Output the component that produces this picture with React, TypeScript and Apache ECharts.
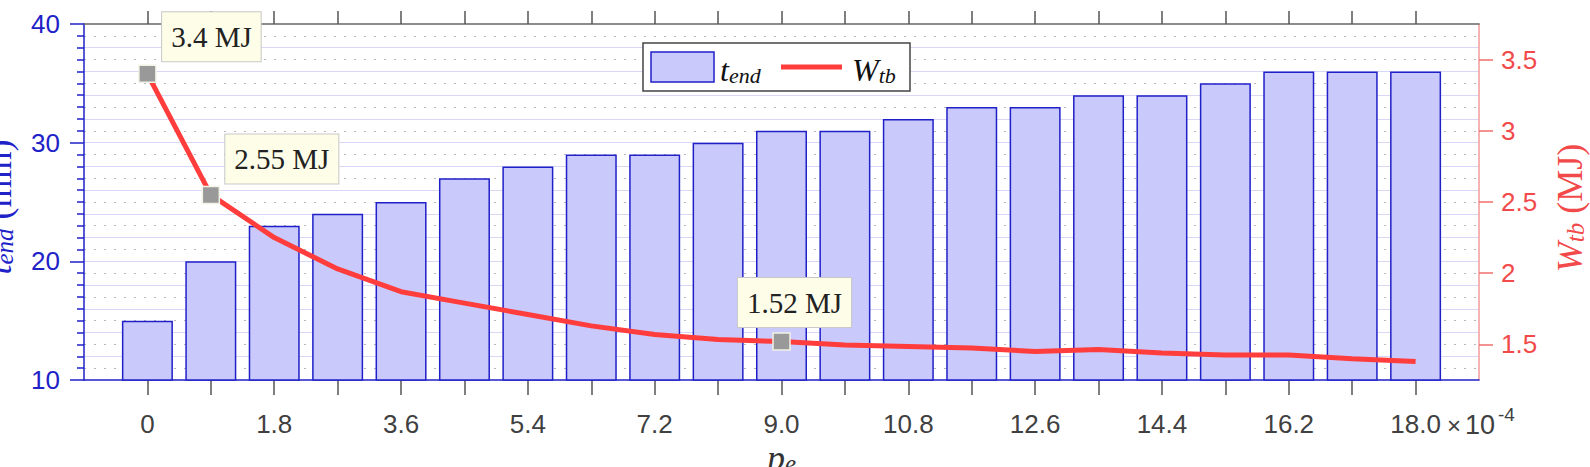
import React, { useEffect, useRef } from 'react';
import * as echarts from 'echarts';

// ---- data ----
const pe = [0, 0.9, 1.8, 2.7, 3.6, 4.5, 5.4, 6.3, 7.2, 8.1, 9.0, 9.9, 10.8, 11.7, 12.6, 13.5, 14.4, 15.3, 16.2, 17.1, 18.0];
const peLabels = [0, 1.8, 3.6, 5.4, 7.2, 9.0, 10.8, 12.6, 14.4, 16.2, 18.0];
const tEnd = [15, 20, 23, 24, 25, 27, 28, 29, 29, 30, 31, 31, 32, 33, 33, 34, 34, 35, 36, 36, 36];
const wTb = [3.4, 2.55, 2.25, 2.03, 1.87, 1.79, 1.71, 1.63, 1.57, 1.535, 1.52, 1.495, 1.485, 1.475, 1.45, 1.465, 1.44, 1.425, 1.425, 1.40, 1.38];
const rightTicks = [1.5, 2, 2.5, 3, 3.5];
const annotatedIdx = [0, 1, 10];
const annotatedText = ['3.4 MJ', '2.55 MJ', '1.52 MJ'];

export default function App() {
  const ref = useRef<HTMLDivElement>(null);
  useEffect(() => {
    const chart = echarts.init(ref.current!, null, { renderer: 'svg' });
    const blue = '#2121c8';
    const red = '#f24a4a';
    const barFill = '#c9c9fb';
    const lineRed = '#ff3d3d';
    const serif = '"Liberation Serif", "DejaVu Serif", serif';
    const sans = '"Liberation Sans", Arial, sans-serif';
    const labelOffsets: number[][] = [[64, -37], [71, -36], [13, -39]];

    const lineData = pe.map((x, i) => {
      const k = annotatedIdx.indexOf(i);
      if (k < 0) return [x, wTb[i]];
      return {
        value: [x, wTb[i]],
        symbol: 'rect',
        symbolSize: 17,
        itemStyle: { color: '#999999', borderColor: '#f2f2e6', borderWidth: 1.5 },
        label: {
          show: true,
          formatter: annotatedText[k],
          position: 'inside',
          offset: labelOffsets[k],
          backgroundColor: '#fdfde8',
          borderColor: '#c8c8c8',
          borderWidth: 1,
          padding: [10, 9],
          fontFamily: serif,
          fontSize: 29,
          color: '#222222',
        },
      };
    });

    const mathRich = (color: string, main: number, sub: number, lh: number) => ({
      i: { fontFamily: serif, fontStyle: 'italic', fontSize: main, lineHeight: lh, fill: color, verticalAlign: 'bottom' },
      s: { fontFamily: serif, fontStyle: 'italic', fontSize: sub, lineHeight: sub * 0.8, fill: color, verticalAlign: 'bottom' },
      n: { fontFamily: serif, fontSize: main, lineHeight: lh, fill: color, verticalAlign: 'bottom' },
    });

    const option = {
      animation: false,
      grid: { left: 84, right: 111, top: 24, bottom: 87, containLabel: false },
      xAxis: [
        {
          type: 'value', min: -0.9, max: 18.9, position: 'bottom',
          axisLine: { show: true, onZero: false, lineStyle: { color: blue, width: 1.5 } },
          axisTick: { show: true, customValues: pe, length: 15, lineStyle: { color: '#555555', width: 1.5 } },
          axisLabel: {
            customValues: peLabels,
            formatter: (v: number) => (v === 0 ? '0' : v.toFixed(1)),
            color: '#404040', fontSize: 26, fontFamily: sans, margin: 31,
          },
          splitLine: { show: false },
        },
        {
          type: 'value', min: -0.9, max: 18.9, position: 'top',
          axisLine: { show: true, onZero: false, lineStyle: { color: '#666666', width: 1.5 } },
          axisTick: { show: true, customValues: pe, length: 13, lineStyle: { color: '#555555', width: 1.5 } },
          axisLabel: { show: false },
          splitLine: { show: false },
        },
      ],
      yAxis: [
        {
          type: 'value', min: 10, max: 40, interval: 10, position: 'left',
          axisLine: { show: true, onZero: false, lineStyle: { color: blue, width: 1.5 } },
          axisTick: { show: true, length: 14, lineStyle: { color: blue, width: 1.5 } },
          minorTick: { show: true, splitNumber: 10, length: 7, lineStyle: { color: blue, width: 1.5 } },
          axisLabel: { color: blue, fontSize: 26, fontFamily: sans, margin: 24 },
          splitLine: { show: false },
        },
        {
          type: 'value', min: 1.25, max: 3.75, position: 'right',
          axisLine: { show: true, onZero: false, lineStyle: { color: '#f39a9a', width: 1.5 } },
          axisTick: { show: true, customValues: rightTicks, length: 14, lineStyle: { color: '#f06c6c', width: 1.5 } },
          axisLabel: { customValues: rightTicks, formatter: (v: number) => String(v), color: red, fontSize: 26, fontFamily: sans, margin: 22 },
          splitLine: { show: false },
        },
        {
          type: 'value', min: 10, max: 40, interval: 2, position: 'left',
          axisLine: { show: false }, axisTick: { show: false }, axisLabel: { show: false },
          splitLine: { show: true, showMinLine: false, showMaxLine: false, lineStyle: { color: '#d8d8f6', width: 1.2 } },
          minorTick: { show: false, splitNumber: 2 },
          minorSplitLine: { show: true, lineStyle: { color: '#b8b8b8', width: 1.2, type: [2, 8] } },
        },
      ],
      series: [
        {
          type: 'bar', name: 't_end', xAxisIndex: 0, yAxisIndex: 0, barWidth: 51,
          data: pe.map((x, i) => [x, tEnd[i]]),
          itemStyle: { color: barFill, borderColor: '#2020c8', borderWidth: 1.5 },
          z: 2,
        },
        {
          type: 'line', name: 'W_tb', xAxisIndex: 0, yAxisIndex: 1, symbol: 'none',
          data: lineData,
          lineStyle: { color: lineRed, width: 5 },
          z: 3,
        },
      ],
      graphic: [
        { type: 'rect', z: 10, shape: { x: 643, y: 43, width: 267, height: 48 }, style: { fill: '#ffffff', stroke: '#444444', lineWidth: 1.5 } },
        { type: 'rect', z: 11, shape: { x: 651, y: 52, width: 63, height: 30 }, style: { fill: barFill, stroke: '#2020c8', lineWidth: 1.5 } },
        { type: 'text', z: 11, x: 720, y: 67, style: { text: '{i|t}{s|end}', rich: mathRich('#111111', 32, 22, 38), textVerticalAlign: 'middle', fill: '#111111' } },
        { type: 'line', z: 11, shape: { x1: 781, y1: 67, x2: 842, y2: 67 }, style: { stroke: lineRed, lineWidth: 5 } },
        { type: 'text', z: 11, x: 852, y: 67, style: { text: '{i|W}{s|tb}', rich: mathRich('#111111', 32, 22, 38), textVerticalAlign: 'middle', fill: '#111111' } },
        { type: 'text', z: 11, x: -4, y: 207, rotation: Math.PI / 2, style: { text: '{i|t}{s|end}{n| (min)}', rich: mathRich(blue, 36, 25, 42), textAlign: 'center', textVerticalAlign: 'middle', fill: blue } },
        { type: 'text', z: 11, x: 1567, y: 208, rotation: Math.PI / 2, style: { text: '{i|W}{s|tb}{n| (MJ)}', rich: mathRich(red, 36, 25, 42), textAlign: 'center', textVerticalAlign: 'middle', fill: red } },
        { type: 'text', z: 11, x: 781.5, y: 455, style: { text: '{i|p}{s|e}', rich: mathRich('#333333', 36, 25, 42), textAlign: 'center', textVerticalAlign: 'middle', fill: '#333333' } },
        { type: 'text', z: 11, x: 1447, y: 425, style: { text: '×', fontFamily: sans, fontSize: 24, fill: '#404040', textVerticalAlign: 'middle' } },
        { type: 'text', z: 11, x: 1465, y: 425, style: { text: '10', fontFamily: sans, fontSize: 27, fill: '#404040', textVerticalAlign: 'middle' } },
        { type: 'text', z: 11, x: 1498, y: 414, style: { text: '-4', fontFamily: sans, fontSize: 19, fill: '#404040', textVerticalAlign: 'middle' } },
      ],
    };
    chart.setOption(option as any);
    return () => chart.dispose();
  }, []);
  return <div ref={ref} style={{ position: 'fixed', left: 0, top: 0, width: 1590, height: 467, background: '#ffffff' }} />;
}
